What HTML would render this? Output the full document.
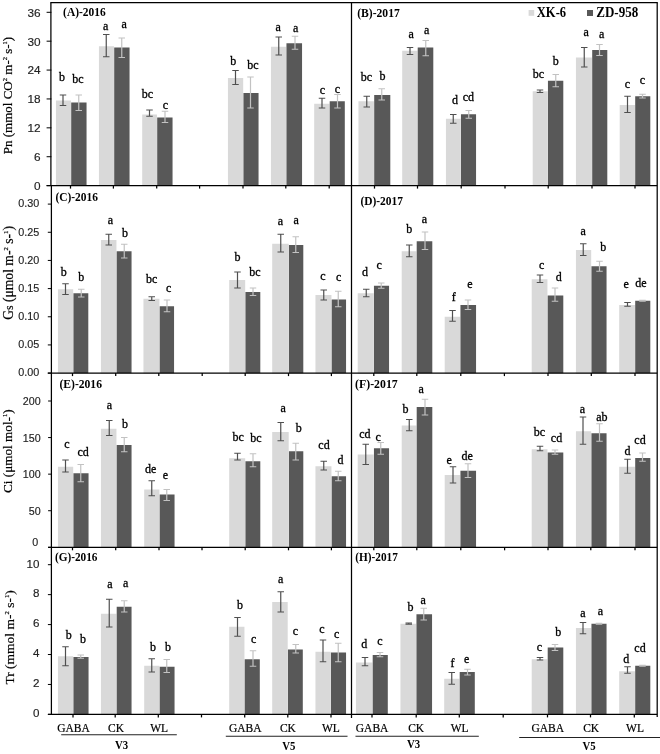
<!DOCTYPE html>
<html lang="en"><head><meta charset="utf-8"><title>Figure</title>
<style>
html,body{margin:0;padding:0;background:#fff;}
body{width:660px;height:754px;overflow:hidden;}
svg{display:block;}
</style></head><body>
<svg width="660" height="754" viewBox="0 0 660 754">
<rect x="0" y="0" width="660" height="754" fill="#ffffff"/>
<defs><filter id="soft" x="0" y="0" width="660" height="754" filterUnits="userSpaceOnUse"><feGaussianBlur stdDeviation="0.38"/></filter></defs>
<g filter="url(#soft)">
<g id="panelA">
<rect x="55.95" y="100.50" width="15.00" height="85.10" fill="#d9d9d9"/>
<rect x="71.20" y="102.50" width="15.35" height="83.10" fill="#595959"/>
<rect x="98.95" y="46.25" width="15.00" height="139.35" fill="#d9d9d9"/>
<rect x="114.20" y="47.50" width="15.35" height="138.10" fill="#595959"/>
<rect x="142.20" y="114.50" width="14.75" height="71.10" fill="#d9d9d9"/>
<rect x="157.20" y="117.50" width="15.35" height="68.10" fill="#595959"/>
<rect x="227.95" y="78.00" width="15.25" height="107.60" fill="#d9d9d9"/>
<rect x="243.45" y="93.00" width="15.10" height="92.60" fill="#595959"/>
<rect x="270.95" y="46.75" width="15.25" height="138.85" fill="#d9d9d9"/>
<rect x="286.45" y="43.25" width="15.60" height="142.35" fill="#595959"/>
<rect x="314.20" y="103.75" width="15.25" height="81.85" fill="#d9d9d9"/>
<rect x="329.70" y="101.25" width="15.10" height="84.35" fill="#595959"/>
<path d="M63.00 95.00V105.50M59.75 95.00H66.25M59.75 105.50H66.25" stroke="#4f4f4f" stroke-width="1.2" fill="none"/>
<text x="62.00" y="80.75" text-anchor="middle" font-family='"Liberation Serif", serif' font-size="12" fill="#000" stroke="#000" stroke-width="0.3">b</text>
<path d="M78.75 95.00V110.50M75.50 95.00H82.00M75.50 110.50H82.00" stroke="#c2c2c2" stroke-width="1.2" fill="none"/>
<text x="77.90" y="82.50" text-anchor="middle" font-family='"Liberation Serif", serif' font-size="12" fill="#000" stroke="#000" stroke-width="0.3">bc</text>
<path d="M106.25 34.50V56.75M103.00 34.50H109.50M103.00 56.75H109.50" stroke="#4f4f4f" stroke-width="1.2" fill="none"/>
<text x="105.75" y="30.00" text-anchor="middle" font-family='"Liberation Serif", serif' font-size="12" fill="#000" stroke="#000" stroke-width="0.3">a</text>
<path d="M121.75 38.00V57.50M118.50 38.00H125.00M118.50 57.50H125.00" stroke="#c2c2c2" stroke-width="1.2" fill="none"/>
<text x="124.25" y="27.50" text-anchor="middle" font-family='"Liberation Serif", serif' font-size="12" fill="#000" stroke="#000" stroke-width="0.3">a</text>
<path d="M149.50 110.00V116.25M146.25 110.00H152.75M146.25 116.25H152.75" stroke="#4f4f4f" stroke-width="1.2" fill="none"/>
<text x="147.50" y="98.00" text-anchor="middle" font-family='"Liberation Serif", serif' font-size="12" fill="#000" stroke="#000" stroke-width="0.3">bc</text>
<path d="M165.00 111.25V122.50M161.75 111.25H168.25M161.75 122.50H168.25" stroke="#c2c2c2" stroke-width="1.2" fill="none"/>
<text x="165.50" y="108.75" text-anchor="middle" font-family='"Liberation Serif", serif' font-size="12" fill="#000" stroke="#000" stroke-width="0.3">c</text>
<path d="M235.50 70.50V84.50M232.25 70.50H238.75M232.25 84.50H238.75" stroke="#4f4f4f" stroke-width="1.2" fill="none"/>
<text x="233.25" y="64.50" text-anchor="middle" font-family='"Liberation Serif", serif' font-size="12" fill="#000" stroke="#000" stroke-width="0.3">b</text>
<path d="M250.50 77.00V108.00M247.25 77.00H253.75M247.25 108.00H253.75" stroke="#c2c2c2" stroke-width="1.2" fill="none"/>
<text x="252.90" y="68.75" text-anchor="middle" font-family='"Liberation Serif", serif' font-size="12" fill="#000" stroke="#000" stroke-width="0.3">bc</text>
<path d="M278.75 37.00V55.00M275.50 37.00H282.00M275.50 55.00H282.00" stroke="#4f4f4f" stroke-width="1.2" fill="none"/>
<text x="278.25" y="31.25" text-anchor="middle" font-family='"Liberation Serif", serif' font-size="12" fill="#000" stroke="#000" stroke-width="0.3">a</text>
<path d="M295.00 36.25V49.25M291.75 36.25H298.25M291.75 49.25H298.25" stroke="#c2c2c2" stroke-width="1.2" fill="none"/>
<text x="295.75" y="32.00" text-anchor="middle" font-family='"Liberation Serif", serif' font-size="12" fill="#000" stroke="#000" stroke-width="0.3">a</text>
<path d="M322.00 98.25V108.00M318.75 98.25H325.25M318.75 108.00H325.25" stroke="#4f4f4f" stroke-width="1.2" fill="none"/>
<text x="322.50" y="93.75" text-anchor="middle" font-family='"Liberation Serif", serif' font-size="12" fill="#000" stroke="#000" stroke-width="0.3">c</text>
<path d="M337.50 94.50V108.00M334.25 94.50H340.75M334.25 108.00H340.75" stroke="#c2c2c2" stroke-width="1.2" fill="none"/>
<text x="337.50" y="92.50" text-anchor="middle" font-family='"Liberation Serif", serif' font-size="12" fill="#000" stroke="#000" stroke-width="0.3">c</text>
</g>
<g id="panelB">
<rect x="358.45" y="101.25" width="15.50" height="84.35" fill="#d9d9d9"/>
<rect x="374.20" y="95.00" width="16.10" height="90.60" fill="#595959"/>
<rect x="402.20" y="50.75" width="15.25" height="134.85" fill="#d9d9d9"/>
<rect x="417.70" y="47.50" width="15.60" height="138.10" fill="#595959"/>
<rect x="445.95" y="118.75" width="14.75" height="66.85" fill="#d9d9d9"/>
<rect x="460.95" y="114.25" width="15.10" height="71.35" fill="#595959"/>
<rect x="532.70" y="91.25" width="15.00" height="94.35" fill="#d9d9d9"/>
<rect x="547.95" y="80.75" width="15.35" height="104.85" fill="#595959"/>
<rect x="575.95" y="57.50" width="16.00" height="128.10" fill="#d9d9d9"/>
<rect x="592.20" y="50.00" width="15.10" height="135.60" fill="#595959"/>
<rect x="619.70" y="105.00" width="15.25" height="80.60" fill="#d9d9d9"/>
<rect x="635.20" y="96.25" width="15.10" height="89.35" fill="#595959"/>
<path d="M366.75 96.25V107.00M363.50 96.25H370.00M363.50 107.00H370.00" stroke="#4f4f4f" stroke-width="1.2" fill="none"/>
<text x="366.50" y="81.25" text-anchor="middle" font-family='"Liberation Serif", serif' font-size="12" fill="#000" stroke="#000" stroke-width="0.3">bc</text>
<path d="M381.75 88.75V100.00M378.50 88.75H385.00M378.50 100.00H385.00" stroke="#c2c2c2" stroke-width="1.2" fill="none"/>
<text x="382.50" y="79.50" text-anchor="middle" font-family='"Liberation Serif", serif' font-size="12" fill="#000" stroke="#000" stroke-width="0.3">b</text>
<path d="M410.00 47.50V54.50M406.75 47.50H413.25M406.75 54.50H413.25" stroke="#4f4f4f" stroke-width="1.2" fill="none"/>
<text x="411.25" y="37.50" text-anchor="middle" font-family='"Liberation Serif", serif' font-size="12" fill="#000" stroke="#000" stroke-width="0.3">a</text>
<path d="M425.75 40.50V55.75M422.50 40.50H429.00M422.50 55.75H429.00" stroke="#c2c2c2" stroke-width="1.2" fill="none"/>
<text x="426.75" y="33.75" text-anchor="middle" font-family='"Liberation Serif", serif' font-size="12" fill="#000" stroke="#000" stroke-width="0.3">a</text>
<path d="M453.25 114.50V123.25M450.00 114.50H456.50M450.00 123.25H456.50" stroke="#4f4f4f" stroke-width="1.2" fill="none"/>
<text x="455.00" y="104.25" text-anchor="middle" font-family='"Liberation Serif", serif' font-size="12" fill="#000" stroke="#000" stroke-width="0.3">d</text>
<path d="M468.75 110.50V118.25M465.50 110.50H472.00M465.50 118.25H472.00" stroke="#c2c2c2" stroke-width="1.2" fill="none"/>
<text x="468.40" y="100.50" text-anchor="middle" font-family='"Liberation Serif", serif' font-size="12" fill="#000" stroke="#000" stroke-width="0.3">cd</text>
<path d="M540.00 90.00V92.50M536.75 90.00H543.25M536.75 92.50H543.25" stroke="#4f4f4f" stroke-width="1.2" fill="none"/>
<text x="538.40" y="77.50" text-anchor="middle" font-family='"Liberation Serif", serif' font-size="12" fill="#000" stroke="#000" stroke-width="0.3">bc</text>
<path d="M555.75 74.50V86.75M552.50 74.50H559.00M552.50 86.75H559.00" stroke="#c2c2c2" stroke-width="1.2" fill="none"/>
<text x="555.75" y="65.00" text-anchor="middle" font-family='"Liberation Serif", serif' font-size="12" fill="#000" stroke="#000" stroke-width="0.3">b</text>
<path d="M584.25 47.50V67.00M581.00 47.50H587.50M581.00 67.00H587.50" stroke="#4f4f4f" stroke-width="1.2" fill="none"/>
<text x="586.25" y="36.25" text-anchor="middle" font-family='"Liberation Serif", serif' font-size="12" fill="#000" stroke="#000" stroke-width="0.3">a</text>
<path d="M599.50 44.50V55.50M596.25 44.50H602.75M596.25 55.50H602.75" stroke="#c2c2c2" stroke-width="1.2" fill="none"/>
<text x="601.75" y="37.50" text-anchor="middle" font-family='"Liberation Serif", serif' font-size="12" fill="#000" stroke="#000" stroke-width="0.3">a</text>
<path d="M627.50 96.25V112.50M624.25 96.25H630.75M624.25 112.50H630.75" stroke="#4f4f4f" stroke-width="1.2" fill="none"/>
<text x="627.50" y="88.00" text-anchor="middle" font-family='"Liberation Serif", serif' font-size="12" fill="#000" stroke="#000" stroke-width="0.3">c</text>
<path d="M642.50 94.25V98.00M639.25 94.25H645.75M639.25 98.00H645.75" stroke="#c2c2c2" stroke-width="1.2" fill="none"/>
<text x="642.50" y="83.75" text-anchor="middle" font-family='"Liberation Serif", serif' font-size="12" fill="#000" stroke="#000" stroke-width="0.3">c</text>
</g>
<g id="panelC">
<rect x="57.95" y="289.25" width="15.25" height="83.85" fill="#d9d9d9"/>
<rect x="73.45" y="293.25" width="14.85" height="79.85" fill="#595959"/>
<rect x="100.95" y="240.00" width="15.50" height="133.10" fill="#d9d9d9"/>
<rect x="116.70" y="251.25" width="14.85" height="121.85" fill="#595959"/>
<rect x="143.45" y="298.75" width="16.00" height="74.35" fill="#d9d9d9"/>
<rect x="159.70" y="306.25" width="14.35" height="66.85" fill="#595959"/>
<rect x="229.20" y="280.00" width="16.00" height="93.10" fill="#d9d9d9"/>
<rect x="245.45" y="292.00" width="14.85" height="81.10" fill="#595959"/>
<rect x="272.20" y="243.75" width="16.50" height="129.35" fill="#d9d9d9"/>
<rect x="288.95" y="245.00" width="14.35" height="128.10" fill="#595959"/>
<rect x="315.45" y="295.00" width="16.00" height="78.10" fill="#d9d9d9"/>
<rect x="331.70" y="299.50" width="14.35" height="73.60" fill="#595959"/>
<path d="M65.50 283.75V294.50M62.25 283.75H68.75M62.25 294.50H68.75" stroke="#4f4f4f" stroke-width="1.2" fill="none"/>
<text x="63.75" y="276.25" text-anchor="middle" font-family='"Liberation Serif", serif' font-size="12" fill="#000" stroke="#000" stroke-width="0.3">b</text>
<path d="M81.25 289.25V297.00M78.00 289.25H84.50M78.00 297.00H84.50" stroke="#c2c2c2" stroke-width="1.2" fill="none"/>
<text x="81.25" y="280.50" text-anchor="middle" font-family='"Liberation Serif", serif' font-size="12" fill="#000" stroke="#000" stroke-width="0.3">b</text>
<path d="M108.75 234.25V245.00M105.50 234.25H112.00M105.50 245.00H112.00" stroke="#4f4f4f" stroke-width="1.2" fill="none"/>
<text x="110.50" y="223.75" text-anchor="middle" font-family='"Liberation Serif", serif' font-size="12" fill="#000" stroke="#000" stroke-width="0.3">a</text>
<path d="M124.25 244.25V258.00M121.00 244.25H127.50M121.00 258.00H127.50" stroke="#c2c2c2" stroke-width="1.2" fill="none"/>
<text x="125.00" y="237.00" text-anchor="middle" font-family='"Liberation Serif", serif' font-size="12" fill="#000" stroke="#000" stroke-width="0.3">b</text>
<path d="M151.75 296.75V300.50M148.50 296.75H155.00M148.50 300.50H155.00" stroke="#4f4f4f" stroke-width="1.2" fill="none"/>
<text x="151.60" y="283.00" text-anchor="middle" font-family='"Liberation Serif", serif' font-size="12" fill="#000" stroke="#000" stroke-width="0.3">bc</text>
<path d="M167.00 300.00V311.75M163.75 300.00H170.25M163.75 311.75H170.25" stroke="#c2c2c2" stroke-width="1.2" fill="none"/>
<text x="168.75" y="291.75" text-anchor="middle" font-family='"Liberation Serif", serif' font-size="12" fill="#000" stroke="#000" stroke-width="0.3">c</text>
<path d="M237.50 272.00V288.00M234.25 272.00H240.75M234.25 288.00H240.75" stroke="#4f4f4f" stroke-width="1.2" fill="none"/>
<text x="237.50" y="261.25" text-anchor="middle" font-family='"Liberation Serif", serif' font-size="12" fill="#000" stroke="#000" stroke-width="0.3">b</text>
<path d="M253.00 288.00V295.50M249.75 288.00H256.25M249.75 295.50H256.25" stroke="#c2c2c2" stroke-width="1.2" fill="none"/>
<text x="254.90" y="276.25" text-anchor="middle" font-family='"Liberation Serif", serif' font-size="12" fill="#000" stroke="#000" stroke-width="0.3">bc</text>
<path d="M280.75 234.25V252.00M277.50 234.25H284.00M277.50 252.00H284.00" stroke="#4f4f4f" stroke-width="1.2" fill="none"/>
<text x="280.50" y="225.00" text-anchor="middle" font-family='"Liberation Serif", serif' font-size="12" fill="#000" stroke="#000" stroke-width="0.3">a</text>
<path d="M295.75 236.75V252.50M292.50 236.75H299.00M292.50 252.50H299.00" stroke="#c2c2c2" stroke-width="1.2" fill="none"/>
<text x="296.25" y="223.75" text-anchor="middle" font-family='"Liberation Serif", serif' font-size="12" fill="#000" stroke="#000" stroke-width="0.3">a</text>
<path d="M323.75 290.00V300.00M320.50 290.00H327.00M320.50 300.00H327.00" stroke="#4f4f4f" stroke-width="1.2" fill="none"/>
<text x="323.00" y="280.00" text-anchor="middle" font-family='"Liberation Serif", serif' font-size="12" fill="#000" stroke="#000" stroke-width="0.3">c</text>
<path d="M338.25 291.25V306.75M335.00 291.25H341.50M335.00 306.75H341.50" stroke="#c2c2c2" stroke-width="1.2" fill="none"/>
<text x="338.75" y="280.75" text-anchor="middle" font-family='"Liberation Serif", serif' font-size="12" fill="#000" stroke="#000" stroke-width="0.3">c</text>
</g>
<g id="panelD">
<rect x="357.70" y="293.25" width="16.00" height="79.85" fill="#d9d9d9"/>
<rect x="373.95" y="285.75" width="15.10" height="87.35" fill="#595959"/>
<rect x="401.70" y="251.25" width="14.75" height="121.85" fill="#d9d9d9"/>
<rect x="416.70" y="241.25" width="15.60" height="131.85" fill="#595959"/>
<rect x="444.70" y="316.75" width="15.50" height="56.35" fill="#d9d9d9"/>
<rect x="460.45" y="305.00" width="15.60" height="68.10" fill="#595959"/>
<rect x="531.70" y="279.25" width="15.75" height="93.85" fill="#d9d9d9"/>
<rect x="547.70" y="295.50" width="15.60" height="77.60" fill="#595959"/>
<rect x="575.95" y="250.00" width="15.25" height="123.10" fill="#d9d9d9"/>
<rect x="591.45" y="266.25" width="15.10" height="106.85" fill="#595959"/>
<rect x="619.20" y="305.00" width="15.75" height="68.10" fill="#d9d9d9"/>
<rect x="635.20" y="300.75" width="15.10" height="72.35" fill="#595959"/>
<path d="M366.25 289.25V296.75M363.00 289.25H369.50M363.00 296.75H369.50" stroke="#4f4f4f" stroke-width="1.2" fill="none"/>
<text x="365.00" y="275.50" text-anchor="middle" font-family='"Liberation Serif", serif' font-size="12" fill="#000" stroke="#000" stroke-width="0.3">d</text>
<path d="M381.25 283.00V288.25M378.00 283.00H384.50M378.00 288.25H384.50" stroke="#c2c2c2" stroke-width="1.2" fill="none"/>
<text x="379.25" y="268.75" text-anchor="middle" font-family='"Liberation Serif", serif' font-size="12" fill="#000" stroke="#000" stroke-width="0.3">c</text>
<path d="M409.25 245.00V256.75M406.00 245.00H412.50M406.00 256.75H412.50" stroke="#4f4f4f" stroke-width="1.2" fill="none"/>
<text x="409.25" y="232.50" text-anchor="middle" font-family='"Liberation Serif", serif' font-size="12" fill="#000" stroke="#000" stroke-width="0.3">b</text>
<path d="M425.00 232.00V249.50M421.75 232.00H428.25M421.75 249.50H428.25" stroke="#c2c2c2" stroke-width="1.2" fill="none"/>
<text x="424.50" y="222.50" text-anchor="middle" font-family='"Liberation Serif", serif' font-size="12" fill="#000" stroke="#000" stroke-width="0.3">a</text>
<path d="M452.50 310.50V321.25M449.25 310.50H455.75M449.25 321.25H455.75" stroke="#4f4f4f" stroke-width="1.2" fill="none"/>
<text x="453.75" y="301.25" text-anchor="middle" font-family='"Liberation Serif", serif' font-size="12" fill="#000" stroke="#000" stroke-width="0.3">f</text>
<path d="M468.00 300.00V309.50M464.75 300.00H471.25M464.75 309.50H471.25" stroke="#c2c2c2" stroke-width="1.2" fill="none"/>
<text x="470.00" y="288.25" text-anchor="middle" font-family='"Liberation Serif", serif' font-size="12" fill="#000" stroke="#000" stroke-width="0.3">e</text>
<path d="M540.00 275.00V282.50M536.75 275.00H543.25M536.75 282.50H543.25" stroke="#4f4f4f" stroke-width="1.2" fill="none"/>
<text x="541.75" y="269.25" text-anchor="middle" font-family='"Liberation Serif", serif' font-size="12" fill="#000" stroke="#000" stroke-width="0.3">c</text>
<path d="M555.00 288.00V301.25M551.75 288.00H558.25M551.75 301.25H558.25" stroke="#c2c2c2" stroke-width="1.2" fill="none"/>
<text x="558.75" y="281.25" text-anchor="middle" font-family='"Liberation Serif", serif' font-size="12" fill="#000" stroke="#000" stroke-width="0.3">d</text>
<path d="M583.25 243.75V255.50M580.00 243.75H586.50M580.00 255.50H586.50" stroke="#4f4f4f" stroke-width="1.2" fill="none"/>
<text x="583.25" y="234.50" text-anchor="middle" font-family='"Liberation Serif", serif' font-size="12" fill="#000" stroke="#000" stroke-width="0.3">a</text>
<path d="M599.50 261.25V271.25M596.25 261.25H602.75M596.25 271.25H602.75" stroke="#c2c2c2" stroke-width="1.2" fill="none"/>
<text x="603.25" y="250.75" text-anchor="middle" font-family='"Liberation Serif", serif' font-size="12" fill="#000" stroke="#000" stroke-width="0.3">b</text>
<path d="M627.50 302.50V306.25M624.25 302.50H630.75M624.25 306.25H630.75" stroke="#4f4f4f" stroke-width="1.2" fill="none"/>
<text x="626.25" y="287.50" text-anchor="middle" font-family='"Liberation Serif", serif' font-size="12" fill="#000" stroke="#000" stroke-width="0.3">e</text>
<path d="M642.50 300.25V301.25M639.25 300.25H645.75M639.25 301.25H645.75" stroke="#c2c2c2" stroke-width="1.2" fill="none"/>
<text x="640.90" y="286.75" text-anchor="middle" font-family='"Liberation Serif", serif' font-size="12" fill="#000" stroke="#000" stroke-width="0.3">de</text>
</g>
<g id="panelE">
<rect x="57.95" y="466.75" width="15.25" height="80.55" fill="#d9d9d9"/>
<rect x="73.45" y="473.25" width="15.10" height="74.05" fill="#595959"/>
<rect x="100.95" y="428.75" width="15.50" height="118.55" fill="#d9d9d9"/>
<rect x="116.70" y="445.00" width="14.85" height="102.30" fill="#595959"/>
<rect x="144.20" y="489.50" width="15.25" height="57.80" fill="#d9d9d9"/>
<rect x="159.70" y="494.50" width="14.85" height="52.80" fill="#595959"/>
<rect x="229.20" y="458.25" width="16.00" height="89.05" fill="#d9d9d9"/>
<rect x="245.45" y="461.25" width="14.85" height="86.05" fill="#595959"/>
<rect x="272.20" y="432.00" width="16.50" height="115.30" fill="#d9d9d9"/>
<rect x="288.95" y="451.25" width="14.35" height="96.05" fill="#595959"/>
<rect x="315.45" y="466.25" width="16.00" height="81.05" fill="#d9d9d9"/>
<rect x="331.70" y="476.25" width="14.35" height="71.05" fill="#595959"/>
<path d="M65.50 460.00V472.00M62.25 460.00H68.75M62.25 472.00H68.75" stroke="#4f4f4f" stroke-width="1.2" fill="none"/>
<text x="67.00" y="448.25" text-anchor="middle" font-family='"Liberation Serif", serif' font-size="12" fill="#000" stroke="#000" stroke-width="0.3">c</text>
<path d="M80.75 464.50V481.75M77.50 464.50H84.00M77.50 481.75H84.00" stroke="#c2c2c2" stroke-width="1.2" fill="none"/>
<text x="83.10" y="455.50" text-anchor="middle" font-family='"Liberation Serif", serif' font-size="12" fill="#000" stroke="#000" stroke-width="0.3">cd</text>
<path d="M109.25 420.50V435.50M106.00 420.50H112.50M106.00 435.50H112.50" stroke="#4f4f4f" stroke-width="1.2" fill="none"/>
<text x="109.50" y="409.25" text-anchor="middle" font-family='"Liberation Serif", serif' font-size="12" fill="#000" stroke="#000" stroke-width="0.3">a</text>
<path d="M124.25 437.50V451.75M121.00 437.50H127.50M121.00 451.75H127.50" stroke="#c2c2c2" stroke-width="1.2" fill="none"/>
<text x="125.00" y="428.25" text-anchor="middle" font-family='"Liberation Serif", serif' font-size="12" fill="#000" stroke="#000" stroke-width="0.3">b</text>
<path d="M151.75 480.75V495.75M148.50 480.75H155.00M148.50 495.75H155.00" stroke="#4f4f4f" stroke-width="1.2" fill="none"/>
<text x="150.60" y="472.50" text-anchor="middle" font-family='"Liberation Serif", serif' font-size="12" fill="#000" stroke="#000" stroke-width="0.3">de</text>
<path d="M166.75 489.50V500.50M163.50 489.50H170.00M163.50 500.50H170.00" stroke="#c2c2c2" stroke-width="1.2" fill="none"/>
<text x="165.50" y="478.75" text-anchor="middle" font-family='"Liberation Serif", serif' font-size="12" fill="#000" stroke="#000" stroke-width="0.3">e</text>
<path d="M237.50 453.25V460.00M234.25 453.25H240.75M234.25 460.00H240.75" stroke="#4f4f4f" stroke-width="1.2" fill="none"/>
<text x="238.10" y="441.25" text-anchor="middle" font-family='"Liberation Serif", serif' font-size="12" fill="#000" stroke="#000" stroke-width="0.3">bc</text>
<path d="M253.00 453.75V466.75M249.75 453.75H256.25M249.75 466.75H256.25" stroke="#c2c2c2" stroke-width="1.2" fill="none"/>
<text x="255.90" y="442.00" text-anchor="middle" font-family='"Liberation Serif", serif' font-size="12" fill="#000" stroke="#000" stroke-width="0.3">bc</text>
<path d="M280.75 422.50V440.75M277.50 422.50H284.00M277.50 440.75H284.00" stroke="#4f4f4f" stroke-width="1.2" fill="none"/>
<text x="283.25" y="412.00" text-anchor="middle" font-family='"Liberation Serif", serif' font-size="12" fill="#000" stroke="#000" stroke-width="0.3">a</text>
<path d="M295.75 443.25V460.00M292.50 443.25H299.00M292.50 460.00H299.00" stroke="#c2c2c2" stroke-width="1.2" fill="none"/>
<text x="298.75" y="431.75" text-anchor="middle" font-family='"Liberation Serif", serif' font-size="12" fill="#000" stroke="#000" stroke-width="0.3">b</text>
<path d="M323.75 461.25V470.00M320.50 461.25H327.00M320.50 470.00H327.00" stroke="#4f4f4f" stroke-width="1.2" fill="none"/>
<text x="324.00" y="448.75" text-anchor="middle" font-family='"Liberation Serif", serif' font-size="12" fill="#000" stroke="#000" stroke-width="0.3">cd</text>
<path d="M338.25 471.25V480.75M335.00 471.25H341.50M335.00 480.75H341.50" stroke="#c2c2c2" stroke-width="1.2" fill="none"/>
<text x="340.50" y="464.25" text-anchor="middle" font-family='"Liberation Serif", serif' font-size="12" fill="#000" stroke="#000" stroke-width="0.3">d</text>
</g>
<g id="panelF">
<rect x="357.70" y="454.50" width="16.00" height="92.80" fill="#d9d9d9"/>
<rect x="373.95" y="448.25" width="15.10" height="99.05" fill="#595959"/>
<rect x="401.70" y="425.50" width="14.75" height="121.80" fill="#d9d9d9"/>
<rect x="416.70" y="407.00" width="15.60" height="140.30" fill="#595959"/>
<rect x="444.70" y="475.00" width="15.50" height="72.30" fill="#d9d9d9"/>
<rect x="460.45" y="470.75" width="15.60" height="76.55" fill="#595959"/>
<rect x="531.70" y="449.25" width="15.75" height="98.05" fill="#d9d9d9"/>
<rect x="547.70" y="452.50" width="15.60" height="94.80" fill="#595959"/>
<rect x="575.95" y="431.25" width="15.25" height="116.05" fill="#d9d9d9"/>
<rect x="591.45" y="433.25" width="15.10" height="114.05" fill="#595959"/>
<rect x="619.20" y="466.75" width="15.75" height="80.55" fill="#d9d9d9"/>
<rect x="635.20" y="458.00" width="15.10" height="89.30" fill="#595959"/>
<path d="M365.75 444.25V464.50M362.50 444.25H369.00M362.50 464.50H369.00" stroke="#4f4f4f" stroke-width="1.2" fill="none"/>
<text x="364.90" y="437.50" text-anchor="middle" font-family='"Liberation Serif", serif' font-size="12" fill="#000" stroke="#000" stroke-width="0.3">cd</text>
<path d="M380.75 442.50V454.25M377.50 442.50H384.00M377.50 454.25H384.00" stroke="#c2c2c2" stroke-width="1.2" fill="none"/>
<text x="378.25" y="440.50" text-anchor="middle" font-family='"Liberation Serif", serif' font-size="12" fill="#000" stroke="#000" stroke-width="0.3">c</text>
<path d="M409.25 419.50V430.75M406.00 419.50H412.50M406.00 430.75H412.50" stroke="#4f4f4f" stroke-width="1.2" fill="none"/>
<text x="405.50" y="412.50" text-anchor="middle" font-family='"Liberation Serif", serif' font-size="12" fill="#000" stroke="#000" stroke-width="0.3">b</text>
<path d="M425.00 399.25V415.00M421.75 399.25H428.25M421.75 415.00H428.25" stroke="#c2c2c2" stroke-width="1.2" fill="none"/>
<text x="421.25" y="392.50" text-anchor="middle" font-family='"Liberation Serif", serif' font-size="12" fill="#000" stroke="#000" stroke-width="0.3">a</text>
<path d="M453.00 466.75V483.00M449.75 466.75H456.25M449.75 483.00H456.25" stroke="#4f4f4f" stroke-width="1.2" fill="none"/>
<text x="449.25" y="463.75" text-anchor="middle" font-family='"Liberation Serif", serif' font-size="12" fill="#000" stroke="#000" stroke-width="0.3">e</text>
<path d="M468.00 463.75V477.50M464.75 463.75H471.25M464.75 477.50H471.25" stroke="#c2c2c2" stroke-width="1.2" fill="none"/>
<text x="467.10" y="460.00" text-anchor="middle" font-family='"Liberation Serif", serif' font-size="12" fill="#000" stroke="#000" stroke-width="0.3">de</text>
<path d="M540.00 446.25V450.75M536.75 446.25H543.25M536.75 450.75H543.25" stroke="#4f4f4f" stroke-width="1.2" fill="none"/>
<text x="539.40" y="436.25" text-anchor="middle" font-family='"Liberation Serif", serif' font-size="12" fill="#000" stroke="#000" stroke-width="0.3">bc</text>
<path d="M555.00 450.00V454.25M551.75 450.00H558.25M551.75 454.25H558.25" stroke="#c2c2c2" stroke-width="1.2" fill="none"/>
<text x="556.50" y="441.75" text-anchor="middle" font-family='"Liberation Serif", serif' font-size="12" fill="#000" stroke="#000" stroke-width="0.3">cd</text>
<path d="M583.00 417.00V444.25M579.75 417.00H586.25M579.75 444.25H586.25" stroke="#4f4f4f" stroke-width="1.2" fill="none"/>
<text x="582.50" y="413.25" text-anchor="middle" font-family='"Liberation Serif", serif' font-size="12" fill="#000" stroke="#000" stroke-width="0.3">a</text>
<path d="M599.50 423.75V441.25M596.25 423.75H602.75M596.25 441.25H602.75" stroke="#c2c2c2" stroke-width="1.2" fill="none"/>
<text x="601.90" y="420.75" text-anchor="middle" font-family='"Liberation Serif", serif' font-size="12" fill="#000" stroke="#000" stroke-width="0.3">ab</text>
<path d="M627.50 459.25V473.25M624.25 459.25H630.75M624.25 473.25H630.75" stroke="#4f4f4f" stroke-width="1.2" fill="none"/>
<text x="627.50" y="455.00" text-anchor="middle" font-family='"Liberation Serif", serif' font-size="12" fill="#000" stroke="#000" stroke-width="0.3">d</text>
<path d="M642.50 453.00V461.25M639.25 453.00H645.75M639.25 461.25H645.75" stroke="#c2c2c2" stroke-width="1.2" fill="none"/>
<text x="640.00" y="443.75" text-anchor="middle" font-family='"Liberation Serif", serif' font-size="12" fill="#000" stroke="#000" stroke-width="0.3">cd</text>
</g>
<g id="panelG">
<rect x="57.95" y="656.25" width="15.25" height="58.15" fill="#d9d9d9"/>
<rect x="73.45" y="657.00" width="15.10" height="57.40" fill="#595959"/>
<rect x="100.95" y="613.75" width="15.50" height="100.65" fill="#d9d9d9"/>
<rect x="116.70" y="606.75" width="14.85" height="107.65" fill="#595959"/>
<rect x="144.20" y="665.75" width="15.25" height="48.65" fill="#d9d9d9"/>
<rect x="159.70" y="666.75" width="14.85" height="47.65" fill="#595959"/>
<rect x="229.20" y="626.75" width="15.25" height="87.65" fill="#d9d9d9"/>
<rect x="244.70" y="659.25" width="15.10" height="55.15" fill="#595959"/>
<rect x="272.20" y="602.00" width="15.50" height="112.40" fill="#d9d9d9"/>
<rect x="287.95" y="649.50" width="14.85" height="64.90" fill="#595959"/>
<rect x="315.45" y="651.75" width="15.25" height="62.65" fill="#d9d9d9"/>
<rect x="330.95" y="652.50" width="15.10" height="61.90" fill="#595959"/>
<path d="M65.50 646.75V665.75M62.25 646.75H68.75M62.25 665.75H68.75" stroke="#4f4f4f" stroke-width="1.2" fill="none"/>
<text x="68.75" y="639.25" text-anchor="middle" font-family='"Liberation Serif", serif' font-size="12" fill="#000" stroke="#000" stroke-width="0.3">b</text>
<path d="M80.75 655.00V658.25M77.50 655.00H84.00M77.50 658.25H84.00" stroke="#c2c2c2" stroke-width="1.2" fill="none"/>
<text x="83.00" y="642.50" text-anchor="middle" font-family='"Liberation Serif", serif' font-size="12" fill="#000" stroke="#000" stroke-width="0.3">b</text>
<path d="M109.25 599.25V627.00M106.00 599.25H112.50M106.00 627.00H112.50" stroke="#4f4f4f" stroke-width="1.2" fill="none"/>
<text x="110.00" y="588.00" text-anchor="middle" font-family='"Liberation Serif", serif' font-size="12" fill="#000" stroke="#000" stroke-width="0.3">a</text>
<path d="M124.25 600.75V612.00M121.00 600.75H127.50M121.00 612.00H127.50" stroke="#c2c2c2" stroke-width="1.2" fill="none"/>
<text x="125.75" y="586.75" text-anchor="middle" font-family='"Liberation Serif", serif' font-size="12" fill="#000" stroke="#000" stroke-width="0.3">a</text>
<path d="M151.75 658.75V672.00M148.50 658.75H155.00M148.50 672.00H155.00" stroke="#4f4f4f" stroke-width="1.2" fill="none"/>
<text x="153.00" y="650.75" text-anchor="middle" font-family='"Liberation Serif", serif' font-size="12" fill="#000" stroke="#000" stroke-width="0.3">b</text>
<path d="M166.75 659.50V672.50M163.50 659.50H170.00M163.50 672.50H170.00" stroke="#c2c2c2" stroke-width="1.2" fill="none"/>
<text x="168.00" y="650.75" text-anchor="middle" font-family='"Liberation Serif", serif' font-size="12" fill="#000" stroke="#000" stroke-width="0.3">b</text>
<path d="M237.50 617.50V636.25M234.25 617.50H240.75M234.25 636.25H240.75" stroke="#4f4f4f" stroke-width="1.2" fill="none"/>
<text x="240.00" y="608.75" text-anchor="middle" font-family='"Liberation Serif", serif' font-size="12" fill="#000" stroke="#000" stroke-width="0.3">b</text>
<path d="M253.00 650.75V666.25M249.75 650.75H256.25M249.75 666.25H256.25" stroke="#c2c2c2" stroke-width="1.2" fill="none"/>
<text x="253.75" y="643.00" text-anchor="middle" font-family='"Liberation Serif", serif' font-size="12" fill="#000" stroke="#000" stroke-width="0.3">c</text>
<path d="M280.75 591.75V612.00M277.50 591.75H284.00M277.50 612.00H284.00" stroke="#4f4f4f" stroke-width="1.2" fill="none"/>
<text x="280.75" y="583.25" text-anchor="middle" font-family='"Liberation Serif", serif' font-size="12" fill="#000" stroke="#000" stroke-width="0.3">a</text>
<path d="M295.75 644.50V653.00M292.50 644.50H299.00M292.50 653.00H299.00" stroke="#c2c2c2" stroke-width="1.2" fill="none"/>
<text x="295.50" y="635.00" text-anchor="middle" font-family='"Liberation Serif", serif' font-size="12" fill="#000" stroke="#000" stroke-width="0.3">c</text>
<path d="M323.00 640.00V661.75M319.75 640.00H326.25M319.75 661.75H326.25" stroke="#4f4f4f" stroke-width="1.2" fill="none"/>
<text x="322.00" y="633.00" text-anchor="middle" font-family='"Liberation Serif", serif' font-size="12" fill="#000" stroke="#000" stroke-width="0.3">c</text>
<path d="M338.25 643.25V661.75M335.00 643.25H341.50M335.00 661.75H341.50" stroke="#c2c2c2" stroke-width="1.2" fill="none"/>
<text x="336.75" y="638.25" text-anchor="middle" font-family='"Liberation Serif", serif' font-size="12" fill="#000" stroke="#000" stroke-width="0.3">c</text>
</g>
<g id="panelH">
<rect x="355.95" y="662.50" width="16.50" height="51.90" fill="#d9d9d9"/>
<rect x="372.70" y="655.00" width="15.10" height="59.40" fill="#595959"/>
<rect x="400.45" y="623.75" width="15.75" height="90.65" fill="#d9d9d9"/>
<rect x="416.45" y="614.25" width="15.60" height="100.15" fill="#595959"/>
<rect x="444.20" y="678.75" width="15.25" height="35.65" fill="#d9d9d9"/>
<rect x="459.70" y="672.00" width="15.10" height="42.40" fill="#595959"/>
<rect x="531.70" y="659.25" width="15.75" height="55.15" fill="#d9d9d9"/>
<rect x="547.70" y="647.50" width="15.60" height="66.90" fill="#595959"/>
<rect x="575.95" y="628.00" width="15.25" height="86.40" fill="#d9d9d9"/>
<rect x="591.45" y="623.75" width="15.10" height="90.65" fill="#595959"/>
<rect x="619.20" y="671.25" width="15.75" height="43.15" fill="#d9d9d9"/>
<rect x="635.20" y="665.75" width="15.10" height="48.65" fill="#595959"/>
<path d="M365.00 657.50V665.75M361.75 657.50H368.25M361.75 665.75H368.25" stroke="#4f4f4f" stroke-width="1.2" fill="none"/>
<text x="364.25" y="648.25" text-anchor="middle" font-family='"Liberation Serif", serif' font-size="12" fill="#000" stroke="#000" stroke-width="0.3">d</text>
<path d="M380.00 652.50V656.75M376.75 652.50H383.25M376.75 656.75H383.25" stroke="#c2c2c2" stroke-width="1.2" fill="none"/>
<text x="380.00" y="645.00" text-anchor="middle" font-family='"Liberation Serif", serif' font-size="12" fill="#000" stroke="#000" stroke-width="0.3">c</text>
<path d="M408.75 623.00V624.25M405.50 623.00H412.00M405.50 624.25H412.00" stroke="#4f4f4f" stroke-width="1.2" fill="none"/>
<text x="410.50" y="610.75" text-anchor="middle" font-family='"Liberation Serif", serif' font-size="12" fill="#000" stroke="#000" stroke-width="0.3">b</text>
<path d="M423.75 608.25V620.00M420.50 608.25H427.00M420.50 620.00H427.00" stroke="#c2c2c2" stroke-width="1.2" fill="none"/>
<text x="423.25" y="603.75" text-anchor="middle" font-family='"Liberation Serif", serif' font-size="12" fill="#000" stroke="#000" stroke-width="0.3">a</text>
<path d="M451.75 672.50V684.25M448.50 672.50H455.00M448.50 684.25H455.00" stroke="#4f4f4f" stroke-width="1.2" fill="none"/>
<text x="452.50" y="666.75" text-anchor="middle" font-family='"Liberation Serif", serif' font-size="12" fill="#000" stroke="#000" stroke-width="0.3">f</text>
<path d="M467.50 669.25V675.00M464.25 669.25H470.75M464.25 675.00H470.75" stroke="#c2c2c2" stroke-width="1.2" fill="none"/>
<text x="466.75" y="662.50" text-anchor="middle" font-family='"Liberation Serif", serif' font-size="12" fill="#000" stroke="#000" stroke-width="0.3">e</text>
<path d="M540.00 657.50V660.00M536.75 657.50H543.25M536.75 660.00H543.25" stroke="#4f4f4f" stroke-width="1.2" fill="none"/>
<text x="539.50" y="651.25" text-anchor="middle" font-family='"Liberation Serif", serif' font-size="12" fill="#000" stroke="#000" stroke-width="0.3">c</text>
<path d="M555.00 644.50V650.50M551.75 644.50H558.25M551.75 650.50H558.25" stroke="#c2c2c2" stroke-width="1.2" fill="none"/>
<text x="558.25" y="636.25" text-anchor="middle" font-family='"Liberation Serif", serif' font-size="12" fill="#000" stroke="#000" stroke-width="0.3">b</text>
<path d="M583.00 622.50V633.75M579.75 622.50H586.25M579.75 633.75H586.25" stroke="#4f4f4f" stroke-width="1.2" fill="none"/>
<text x="583.00" y="617.00" text-anchor="middle" font-family='"Liberation Serif", serif' font-size="12" fill="#000" stroke="#000" stroke-width="0.3">a</text>
<path d="M599.00 623.25V624.25M595.75 623.25H602.25M595.75 624.25H602.25" stroke="#c2c2c2" stroke-width="1.2" fill="none"/>
<text x="600.50" y="615.00" text-anchor="middle" font-family='"Liberation Serif", serif' font-size="12" fill="#000" stroke="#000" stroke-width="0.3">a</text>
<path d="M627.50 666.75V673.25M624.25 666.75H630.75M624.25 673.25H630.75" stroke="#4f4f4f" stroke-width="1.2" fill="none"/>
<text x="626.25" y="663.25" text-anchor="middle" font-family='"Liberation Serif", serif' font-size="12" fill="#000" stroke="#000" stroke-width="0.3">d</text>
<path d="M642.50 665.25V666.25M639.25 665.25H645.75M639.25 666.25H645.75" stroke="#c2c2c2" stroke-width="1.2" fill="none"/>
<text x="640.00" y="651.75" text-anchor="middle" font-family='"Liberation Serif", serif' font-size="12" fill="#000" stroke="#000" stroke-width="0.3">cd</text>
</g>
<g stroke="#000" stroke-width="1.25" fill="none">
<path d="M50.3 2.7H657.8000000000001"/>
<path d="M50.9 2.7V185.6"/>
<path d="M51.4 185.6V714.4"/>
<path d="M351.5 2.7V717.9"/>
<path d="M657.2 2.7V716.9"/>
<path d="M46.6 185.6H657.2"/>
<path d="M47.8 373.1H657.2"/>
<path d="M48.1 547.3H657.2"/>
<path d="M47.9 714.4H657.2"/>
</g>
<g stroke="#000" stroke-width="1.25" fill="none">
<path d="M70.5 185.6V188.6"/>
<path d="M113.4 185.6V188.6"/>
<path d="M156.7 185.6V188.6"/>
<path d="M199.6 185.6V188.6"/>
<path d="M243 185.6V188.6"/>
<path d="M285.8 185.6V188.6"/>
<path d="M329.2 185.6V188.6"/>
<path d="M374.5 185.6V188.6"/>
<path d="M417.5 185.6V188.6"/>
<path d="M461.2 185.6V188.6"/>
<path d="M505 185.6V188.6"/>
<path d="M548.2 185.6V188.6"/>
<path d="M592 185.6V188.6"/>
<path d="M635 185.6V188.6"/>
<path d="M72.5 373.1V376.1"/>
<path d="M115.7 373.1V376.1"/>
<path d="M158.8 373.1V376.1"/>
<path d="M202.2 373.1V376.1"/>
<path d="M245.2 373.1V376.1"/>
<path d="M288.5 373.1V376.1"/>
<path d="M331.4 373.1V376.1"/>
<path d="M373.8 373.1V376.1"/>
<path d="M416.8 373.1V376.1"/>
<path d="M460.8 373.1V376.1"/>
<path d="M504.4 373.1V376.1"/>
<path d="M548 373.1V376.1"/>
<path d="M591.3 373.1V376.1"/>
<path d="M635 373.1V376.1"/>
<path d="M72.5 547.3V550.3"/>
<path d="M115.7 547.3V550.3"/>
<path d="M159 547.3V550.3"/>
<path d="M202 547.3V550.3"/>
<path d="M245.2 547.3V550.3"/>
<path d="M288.5 547.3V550.3"/>
<path d="M331.4 547.3V550.3"/>
<path d="M373.8 547.3V550.3"/>
<path d="M416.8 547.3V550.3"/>
<path d="M460.8 547.3V550.3"/>
<path d="M504.6 547.3V550.3"/>
<path d="M548 547.3V550.3"/>
<path d="M590.8 547.3V550.3"/>
<path d="M635 547.3V550.3"/>
<path d="M73 714.4V717.4"/>
<path d="M115.2 714.4V717.4"/>
<path d="M158.3 714.4V717.4"/>
<path d="M201.5 714.4V717.4"/>
<path d="M244.7 714.4V717.4"/>
<path d="M287.8 714.4V717.4"/>
<path d="M331 714.4V717.4"/>
<path d="M372 714.4V717.4"/>
<path d="M416.2 714.4V717.4"/>
<path d="M459.3 714.4V717.4"/>
<path d="M503.2 714.4V717.4"/>
<path d="M547.5 714.4V717.4"/>
<path d="M590.5 714.4V717.4"/>
<path d="M634.3 714.4V717.4"/>
</g>
<path d="M46.6 12.30H51.4" stroke="#000" stroke-width="1"/>
<text x="40.5" y="16.62" text-anchor="end" font-family='"Liberation Sans", sans-serif' font-size="11.8" fill="#222" stroke="#222" stroke-width="0.15">36</text>
<path d="M46.6 41.18H51.4" stroke="#000" stroke-width="1"/>
<text x="40.5" y="45.51" text-anchor="end" font-family='"Liberation Sans", sans-serif' font-size="11.8" fill="#222" stroke="#222" stroke-width="0.15">30</text>
<path d="M46.6 70.07H51.4" stroke="#000" stroke-width="1"/>
<text x="40.5" y="74.39" text-anchor="end" font-family='"Liberation Sans", sans-serif' font-size="11.8" fill="#222" stroke="#222" stroke-width="0.15">24</text>
<path d="M46.6 98.95H51.4" stroke="#000" stroke-width="1"/>
<text x="40.5" y="103.27" text-anchor="end" font-family='"Liberation Sans", sans-serif' font-size="11.8" fill="#222" stroke="#222" stroke-width="0.15">18</text>
<path d="M46.6 127.83H51.4" stroke="#000" stroke-width="1"/>
<text x="40.5" y="132.16" text-anchor="end" font-family='"Liberation Sans", sans-serif' font-size="11.8" fill="#222" stroke="#222" stroke-width="0.15">12</text>
<path d="M46.6 156.72H51.4" stroke="#000" stroke-width="1"/>
<text x="40.5" y="161.04" text-anchor="end" font-family='"Liberation Sans", sans-serif' font-size="11.8" fill="#222" stroke="#222" stroke-width="0.15">6</text>
<path d="M46.6 185.60H51.4" stroke="#000" stroke-width="1"/>
<text x="40.5" y="189.92" text-anchor="end" font-family='"Liberation Sans", sans-serif' font-size="11.8" fill="#222" stroke="#222" stroke-width="0.15">0</text>
<path d="M47.8 204.10H51.4" stroke="#000" stroke-width="1"/>
<text x="39.3" y="207.37" text-anchor="end" font-family='"Liberation Sans", sans-serif' font-size="10.8" fill="#222" stroke="#222" stroke-width="0.15">0.30</text>
<path d="M47.8 232.27H51.4" stroke="#000" stroke-width="1"/>
<text x="39.3" y="235.53" text-anchor="end" font-family='"Liberation Sans", sans-serif' font-size="10.8" fill="#222" stroke="#222" stroke-width="0.15">0.25</text>
<path d="M47.8 260.43H51.4" stroke="#000" stroke-width="1"/>
<text x="39.3" y="263.70" text-anchor="end" font-family='"Liberation Sans", sans-serif' font-size="10.8" fill="#222" stroke="#222" stroke-width="0.15">0.20</text>
<path d="M47.8 288.60H51.4" stroke="#000" stroke-width="1"/>
<text x="39.3" y="291.87" text-anchor="end" font-family='"Liberation Sans", sans-serif' font-size="10.8" fill="#222" stroke="#222" stroke-width="0.15">0.15</text>
<path d="M47.8 316.77H51.4" stroke="#000" stroke-width="1"/>
<text x="39.3" y="320.03" text-anchor="end" font-family='"Liberation Sans", sans-serif' font-size="10.8" fill="#222" stroke="#222" stroke-width="0.15">0.10</text>
<path d="M47.8 344.93H51.4" stroke="#000" stroke-width="1"/>
<text x="39.3" y="348.20" text-anchor="end" font-family='"Liberation Sans", sans-serif' font-size="10.8" fill="#222" stroke="#222" stroke-width="0.15">0.05</text>
<path d="M47.8 373.10H51.4" stroke="#000" stroke-width="1"/>
<text x="39.3" y="376.37" text-anchor="end" font-family='"Liberation Sans", sans-serif' font-size="10.8" fill="#222" stroke="#222" stroke-width="0.15">0.00</text>
<path d="M48.1 401.00H51.4" stroke="#000" stroke-width="1"/>
<text x="40.6" y="405.03" text-anchor="end" font-family='"Liberation Sans", sans-serif' font-size="10.7" fill="#222" stroke="#222" stroke-width="0.15">200</text>
<path d="M48.1 437.57H51.4" stroke="#000" stroke-width="1"/>
<text x="40.6" y="441.61" text-anchor="end" font-family='"Liberation Sans", sans-serif' font-size="10.7" fill="#222" stroke="#222" stroke-width="0.15">150</text>
<path d="M48.1 474.15H51.4" stroke="#000" stroke-width="1"/>
<text x="40.6" y="478.18" text-anchor="end" font-family='"Liberation Sans", sans-serif' font-size="10.7" fill="#222" stroke="#222" stroke-width="0.15">100</text>
<path d="M48.1 510.72H51.4" stroke="#000" stroke-width="1"/>
<text x="40.6" y="514.76" text-anchor="end" font-family='"Liberation Sans", sans-serif' font-size="10.7" fill="#222" stroke="#222" stroke-width="0.15">50</text>
<path d="M48.1 547.30H51.4" stroke="#000" stroke-width="1"/>
<text x="38.2" y="545.53" text-anchor="end" font-family='"Liberation Sans", sans-serif' font-size="10.7" fill="#222" stroke="#222" stroke-width="0.15">0</text>
<path d="M47.9 564.70H51.4" stroke="#000" stroke-width="1"/>
<text x="39.5" y="567.55" text-anchor="end" font-family='"Liberation Sans", sans-serif' font-size="11.6" fill="#222" stroke="#222" stroke-width="0.15">10</text>
<path d="M47.9 594.64H51.4" stroke="#000" stroke-width="1"/>
<text x="39.5" y="597.49" text-anchor="end" font-family='"Liberation Sans", sans-serif' font-size="11.6" fill="#222" stroke="#222" stroke-width="0.15">8</text>
<path d="M47.9 624.58H51.4" stroke="#000" stroke-width="1"/>
<text x="39.5" y="627.43" text-anchor="end" font-family='"Liberation Sans", sans-serif' font-size="11.6" fill="#222" stroke="#222" stroke-width="0.15">6</text>
<path d="M47.9 654.52H51.4" stroke="#000" stroke-width="1"/>
<text x="39.5" y="657.37" text-anchor="end" font-family='"Liberation Sans", sans-serif' font-size="11.6" fill="#222" stroke="#222" stroke-width="0.15">4</text>
<path d="M47.9 684.46H51.4" stroke="#000" stroke-width="1"/>
<text x="39.5" y="687.31" text-anchor="end" font-family='"Liberation Sans", sans-serif' font-size="11.6" fill="#222" stroke="#222" stroke-width="0.15">2</text>
<path d="M47.9 714.40H51.4" stroke="#000" stroke-width="1"/>
<text x="39.5" y="717.25" text-anchor="end" font-family='"Liberation Sans", sans-serif' font-size="11.6" fill="#222" stroke="#222" stroke-width="0.15">0</text>
<text x="63.1" y="16" font-family='"Liberation Serif", serif' font-weight="bold" font-size="12.8" textLength="42.6" lengthAdjust="spacingAndGlyphs" fill="#000">(A)-2016</text>
<text x="357.2" y="17.3" font-family='"Liberation Serif", serif' font-weight="bold" font-size="12.8" textLength="42.6" lengthAdjust="spacingAndGlyphs" fill="#000">(B)-2017</text>
<text x="55.4" y="200.7" font-family='"Liberation Serif", serif' font-weight="bold" font-size="12.8" textLength="42.6" lengthAdjust="spacingAndGlyphs" fill="#000">(C)-2016</text>
<text x="360.4" y="204.5" font-family='"Liberation Serif", serif' font-weight="bold" font-size="12.8" textLength="42.6" lengthAdjust="spacingAndGlyphs" fill="#000">(D)-2017</text>
<text x="59.4" y="387.7" font-family='"Liberation Serif", serif' font-weight="bold" font-size="12.8" textLength="42.6" lengthAdjust="spacingAndGlyphs" fill="#000">(E)-2016</text>
<text x="355.1" y="388" font-family='"Liberation Serif", serif' font-weight="bold" font-size="12.8" textLength="42.6" lengthAdjust="spacingAndGlyphs" fill="#000">(F)-2017</text>
<text x="54.9" y="560.6" font-family='"Liberation Serif", serif' font-weight="bold" font-size="12.8" textLength="42.6" lengthAdjust="spacingAndGlyphs" fill="#000">(G)-2016</text>
<text x="355.3" y="561" font-family='"Liberation Serif", serif' font-weight="bold" font-size="12.8" textLength="42.6" lengthAdjust="spacingAndGlyphs" fill="#000">(H)-2017</text>
<rect x="528.6" y="10" width="5.6" height="5.8" fill="#d9d9d9"/>
<text x="536.8" y="17.4" font-family='"Liberation Serif", serif' font-weight="bold" font-size="14.2" textLength="29.3" lengthAdjust="spacingAndGlyphs" fill="#000">XK-6</text>
<rect x="587" y="10" width="6" height="6" fill="#595959"/>
<text x="596.2" y="17.4" font-family='"Liberation Serif", serif' font-weight="bold" font-size="14.2" textLength="42" lengthAdjust="spacingAndGlyphs" fill="#000">ZD-958</text>
<text transform="translate(11.6 154.2) rotate(-90)" font-family='"Liberation Serif", serif' font-size="13" fill="#000" stroke="#000" stroke-width="0.2"><tspan>Pn (mmol CO</tspan><tspan font-size="6.5" dy="-4.9">2</tspan><tspan dy="4.9" font-size="13">&#8203;</tspan><tspan> m-</tspan><tspan font-size="6.5" dy="-4.9">2</tspan><tspan dy="4.9" font-size="13">&#8203;</tspan><tspan> s-</tspan><tspan font-size="6.5" dy="-4.9">1</tspan><tspan dy="4.9" font-size="13">&#8203;</tspan><tspan>)</tspan></text>
<text transform="translate(12.7 319.8) rotate(-90)" font-family='"Liberation Serif", serif' font-size="13.6" fill="#000" stroke="#000" stroke-width="0.2"><tspan>G</tspan><tspan font-size="11.6">s</tspan><tspan> (μmol m-</tspan><tspan font-size="6.8" dy="-5.2">2</tspan><tspan dy="5.2" font-size="13.6">&#8203;</tspan><tspan> s-</tspan><tspan font-size="6.8" dy="-5.2">1</tspan><tspan dy="5.2" font-size="13.6">&#8203;</tspan><tspan>)</tspan></text>
<text transform="translate(11.6 493) rotate(-90)" font-family='"Liberation Serif", serif' font-size="13.2" fill="#000" stroke="#000" stroke-width="0.2"><tspan>Ci (μmol mol-</tspan><tspan font-size="6.6" dy="-5.0">1</tspan><tspan dy="5.0" font-size="13.2">&#8203;</tspan><tspan>)</tspan></text>
<text transform="translate(14.2 684.6) rotate(-90)" font-family='"Liberation Serif", serif' font-size="13.5" fill="#000" stroke="#000" stroke-width="0.2"><tspan>Tr (mmol m-</tspan><tspan font-size="6.8" dy="-5.1">2</tspan><tspan dy="5.1" font-size="13.5">&#8203;</tspan><tspan> s-</tspan><tspan font-size="6.8" dy="-5.1">1</tspan><tspan dy="5.1" font-size="13.5">&#8203;</tspan><tspan>)</tspan></text>
<text x="73.50" y="732.3" text-anchor="middle" font-family='"Liberation Serif", serif' font-size="11.5" fill="#000" stroke="#000" stroke-width="0.2">GABA</text>
<text x="116.00" y="732.3" text-anchor="middle" font-family='"Liberation Serif", serif' font-size="11.5" fill="#000" stroke="#000" stroke-width="0.2">CK</text>
<text x="159.15" y="732.3" text-anchor="middle" font-family='"Liberation Serif", serif' font-size="11.5" fill="#000" stroke="#000" stroke-width="0.2">WL</text>
<text x="245.25" y="732.3" text-anchor="middle" font-family='"Liberation Serif", serif' font-size="11.5" fill="#000" stroke="#000" stroke-width="0.2">GABA</text>
<text x="287.88" y="732.3" text-anchor="middle" font-family='"Liberation Serif", serif' font-size="11.5" fill="#000" stroke="#000" stroke-width="0.2">CK</text>
<text x="330.88" y="732.3" text-anchor="middle" font-family='"Liberation Serif", serif' font-size="11.5" fill="#000" stroke="#000" stroke-width="0.2">WL</text>
<text x="372.12" y="732.3" text-anchor="middle" font-family='"Liberation Serif", serif' font-size="11.5" fill="#000" stroke="#000" stroke-width="0.2">GABA</text>
<text x="416.12" y="732.3" text-anchor="middle" font-family='"Liberation Serif", serif' font-size="11.5" fill="#000" stroke="#000" stroke-width="0.2">CK</text>
<text x="459.62" y="732.3" text-anchor="middle" font-family='"Liberation Serif", serif' font-size="11.5" fill="#000" stroke="#000" stroke-width="0.2">WL</text>
<text x="547.75" y="732.3" text-anchor="middle" font-family='"Liberation Serif", serif' font-size="11.5" fill="#000" stroke="#000" stroke-width="0.2">GABA</text>
<text x="591.12" y="732.3" text-anchor="middle" font-family='"Liberation Serif", serif' font-size="11.5" fill="#000" stroke="#000" stroke-width="0.2">CK</text>
<text x="635.00" y="732.3" text-anchor="middle" font-family='"Liberation Serif", serif' font-size="11.5" fill="#000" stroke="#000" stroke-width="0.2">WL</text>
<g stroke="#222" stroke-width="1.1">
<path d="M61.2 734.8H176.8"/>
<path d="M225.8 736.2H347.5"/>
<path d="M355.5 736.2H478.8"/>
<path d="M519.2 737.5H660"/>
</g>
<text x="121.60" y="749.2" text-anchor="middle" font-family='"Liberation Serif", serif' font-weight="bold" font-size="12.4" textLength="13.2" lengthAdjust="spacingAndGlyphs" fill="#000">V3</text>
<text x="288.75" y="750.4" text-anchor="middle" font-family='"Liberation Serif", serif' font-weight="bold" font-size="12.4" textLength="13.2" lengthAdjust="spacingAndGlyphs" fill="#000">V5</text>
<text x="413.50" y="747.6" text-anchor="middle" font-family='"Liberation Serif", serif' font-weight="bold" font-size="12.4" textLength="13.2" lengthAdjust="spacingAndGlyphs" fill="#000">V3</text>
<text x="589.00" y="750.4" text-anchor="middle" font-family='"Liberation Serif", serif' font-weight="bold" font-size="12.4" textLength="13.2" lengthAdjust="spacingAndGlyphs" fill="#000">V5</text>
</g>
</svg>
</body></html>
